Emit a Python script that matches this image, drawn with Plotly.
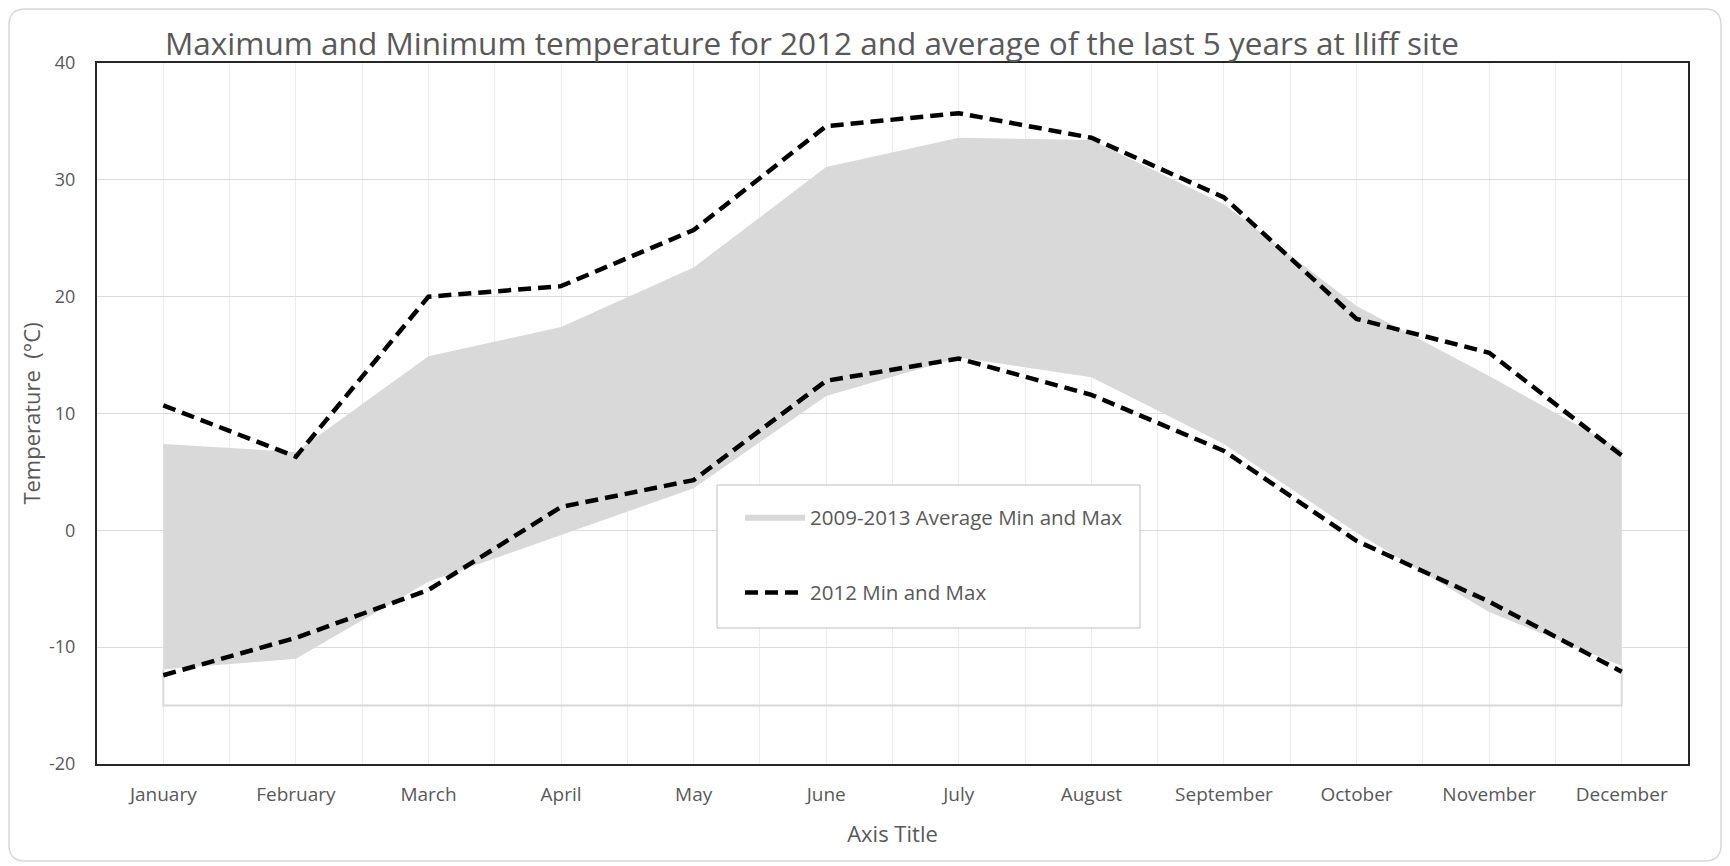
import plotly.graph_objects as go

# ---------------- data ----------------
months = ["January", "February", "March", "April", "May", "June", "July",
          "August", "September", "October", "November", "December"]
avg_max = [7.4, 6.7, 14.9, 17.4, 22.5, 31.1, 33.6, 33.4, 27.9, 19.2, 13.2, 6.9]
avg_min = [-11.9, -11.0, -4.4, -0.4, 3.6, 11.5, 14.8, 13.1, 7.4, -0.2, -7.0, -11.6]
max_2012 = [10.7, 6.3, 20.0, 20.9, 25.7, 34.6, 35.7, 33.6, 28.5, 18.1, 15.2, 6.4]
min_2012 = [-12.4, -9.2, -5.1, 2.0, 4.3, 12.8, 14.7, 11.6, 6.8, -0.9, -6.1, -12.1]
area_base = -15
y_ticks = [-20, -10, 0, 10, 20, 30, 40]
y_tick_labels = ["-20", "-10", "0", "10", "20", "30", "40"]

title_text = "Maximum and Minimum temperature for 2012 and average of the last 5 years at Iliff site"
avg_name = "2009-2013 Average Min and Max"
y2012_name = "2012 Min and Max"

# ---------------- layout constants (page pixels) ----------------
OFF = 8                      # default body margin of the html page
PAGE_W, PAGE_H = 1730, 866
W, H = PAGE_W - OFF, PAGE_H - OFF
PL, PT, PR, PB = 97, 63, 1688, 764   # plot area in page pixels
L, T = PL - OFF, PT - OFF
R, B = W - (PR - OFF), H - (PB - OFF)
PW, PH = PR - PL, PB - PT
FONT = "Open Sans"
TXT = "#595959"

def pxx(x):
    return (x - PL) / PW

def pxy(y):
    return (PB - y) / PH

xi = list(range(len(months)))

fig = go.Figure()

# baseline outline of the Excel area (light border)
fig.add_trace(go.Scatter(
    x=[xi[0], xi[0], xi[-1], xi[-1]],
    y=[avg_min[0], area_base, area_base, avg_min[-1]],
    mode="lines", line=dict(color="#d9d9d9", width=2),
    showlegend=False, hoverinfo="skip"))

# average band
fig.add_trace(go.Scatter(
    x=xi, y=avg_min, mode="lines", line=dict(width=0, color="#d9d9d9"),
    showlegend=False, legendgroup="avg", hoverinfo="skip"))
fig.add_trace(go.Scatter(
    x=xi, y=avg_max, mode="lines", line=dict(width=0, color="#d9d9d9"),
    fill="tonexty", fillcolor="#d9d9d9", name=avg_name, legendgroup="avg"))

# 2012 dashed lines
dash_style = dict(color="black", width=4.5, dash="13px,7px")
fig.add_trace(go.Scatter(
    x=xi, y=max_2012, mode="lines", line=dash_style,
    name=y2012_name, legendgroup="y2012"))
fig.add_trace(go.Scatter(
    x=xi, y=min_2012, mode="lines", line=dash_style,
    name=y2012_name, legendgroup="y2012", showlegend=False))

# ---------------- shapes ----------------
def rounded_rect(x0, y0, x1, y1, r):
    X0, X1 = pxx(x0), pxx(x1)
    Y0, Y1 = pxy(y0), pxy(y1)
    rx, ry = r / PW, r / PH
    return (f"M {X0+rx},{Y0} L {X1-rx},{Y0} Q {X1},{Y0} {X1},{Y0-ry} "
            f"L {X1},{Y1+ry} Q {X1},{Y1} {X1-rx},{Y1} "
            f"L {X0+rx},{Y1} Q {X0},{Y1} {X0},{Y1+ry} "
            f"L {X0},{Y0-ry} Q {X0},{Y0} {X0+rx},{Y0} Z")

shapes = [
    dict(type="path", xref="paper", yref="paper",
         path=rounded_rect(9, 9, 1721, 861, 16),
         line=dict(color="#d9d9d9", width=1.5), layer="below"),
    dict(type="rect", xref="paper", yref="paper",
         x0=pxx(717), x1=pxx(1140), y0=pxy(485), y1=pxy(628),
         line=dict(color="#bfbfbf", width=1), fillcolor="white", layer="above"),
]

fig.update_layout(
    width=W, height=H,
    margin=dict(l=L, r=R, t=T, b=B),
    paper_bgcolor="white", plot_bgcolor="white",
    font=dict(family=FONT, color=TXT),
    title=dict(text=title_text, xref="container", yref="container",
               x=(165 - OFF) / W, xanchor="left", y=1 - (44 - OFF) / H, yanchor="middle",
               font=dict(size=31.5, color=TXT, family=FONT)),
    shapes=shapes,
    showlegend=True,
    legend=dict(x=pxx(740), y=pxy(497), xanchor="left", yanchor="top",
                bgcolor="rgba(0,0,0,0)", borderwidth=0,
                font=dict(size=20.5, color=TXT, family=FONT),
                traceorder="grouped", tracegroupgap=46, itemwidth=60),
)

fig.update_xaxes(
    range=[-0.5, len(months) - 0.5],
    tickmode="array", tickvals=xi, ticktext=months,
    tickfont=dict(size=19, color=TXT, family=FONT),
    showgrid=True, gridcolor="#ececec", gridwidth=1,
    minor=dict(tickmode="array", tickvals=[i + 0.5 for i in range(-1, len(months))],
               showgrid=True, gridcolor="#ececec", gridwidth=1),
    showline=True, mirror=True, linecolor="#262626", linewidth=2,
    ticks="", zeroline=False, ticklabelstandoff=12,
    title=dict(text="Axis Title", font=dict(size=22, color=TXT, family=FONT), standoff=21),
    automargin=False,
)
fig.update_yaxes(
    range=[-20, 40], tickmode="array", tickvals=y_ticks, ticktext=y_tick_labels,
    tickfont=dict(size=18, color=TXT, family=FONT),
    showgrid=True, gridcolor="#dcdcdc", gridwidth=1,
    showline=True, mirror=True, linecolor="#262626", linewidth=2,
    ticks="", zeroline=False, ticklabelstandoff=16,
    title=dict(text="Temperature  (°C)", font=dict(size=22, color=TXT, family=FONT), standoff=2),
    automargin=False,
)

fig.write_html("out.html")
